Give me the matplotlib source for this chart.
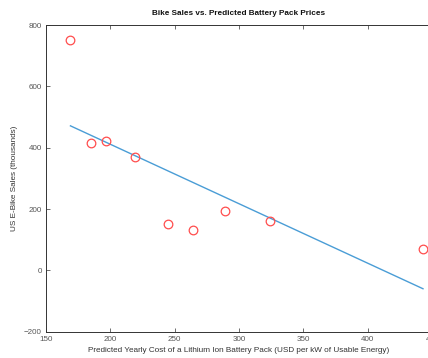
import matplotlib
matplotlib.use('Agg')
import matplotlib.pyplot as plt
import numpy as np

plt.rcParams['font.family'] = ['Liberation Sans', 'DejaVu Sans']

# data
battery_cost = [169, 185, 197, 219, 245, 264, 289, 324, 443]
bike_sales = [750, 416, 423, 369, 152, 130, 193, 160, 70]

x_ticks = [150, 200, 250, 300, 350, 400, 450]
y_ticks = [-200, 0, 200, 400, 600, 800]

# least squares fit line
slope, intercept = np.polyfit(battery_cost, bike_sales, 1)
fit_x = np.array([min(battery_cost), max(battery_cost)])
fit_y = slope * fit_x + intercept

W, H = 428, 358
fig = plt.figure(figsize=(W / 100, H / 100), dpi=100)
ax = fig.add_axes([46 / W, (H - 331.7) / H, 386 / W, 306.7 / H])

ax.plot(fit_x, fit_y, color='#4a9dd6', linewidth=1.0)
ax.plot(battery_cost, bike_sales, linestyle='none', marker='o', markersize=6.2,
        markerfacecolor='none', markeredgecolor='#ff4d4d', markeredgewidth=0.9)

ax.set_xlim(150, 450)
ax.set_ylim(-200, 800)
ax.set_xticks(x_ticks)
ax.set_yticks(y_ticks)
ax.tick_params(direction='in', top=True, right=True, length=3, width=0.6,
               labelsize=5.8, colors='#555555', pad=3)
for s in ax.spines.values():
    s.set_color('#333333')
    s.set_linewidth(0.7)

ax.set_title('Bike Sales vs. Predicted Battery Pack Prices', fontsize=5.85,
             fontweight='bold', pad=7, color='#111111')
ax.set_xlabel('Predicted Yearly Cost of a Lithium Ion Battery Pack (USD per kW of Usable Energy)',
              fontsize=5.9, color='#333333', labelpad=3)
ax.set_ylabel('US E-Bike Sales (thousands)', fontsize=5.9, color='#333333', labelpad=4)

fig.savefig('out.png', dpi=100)
